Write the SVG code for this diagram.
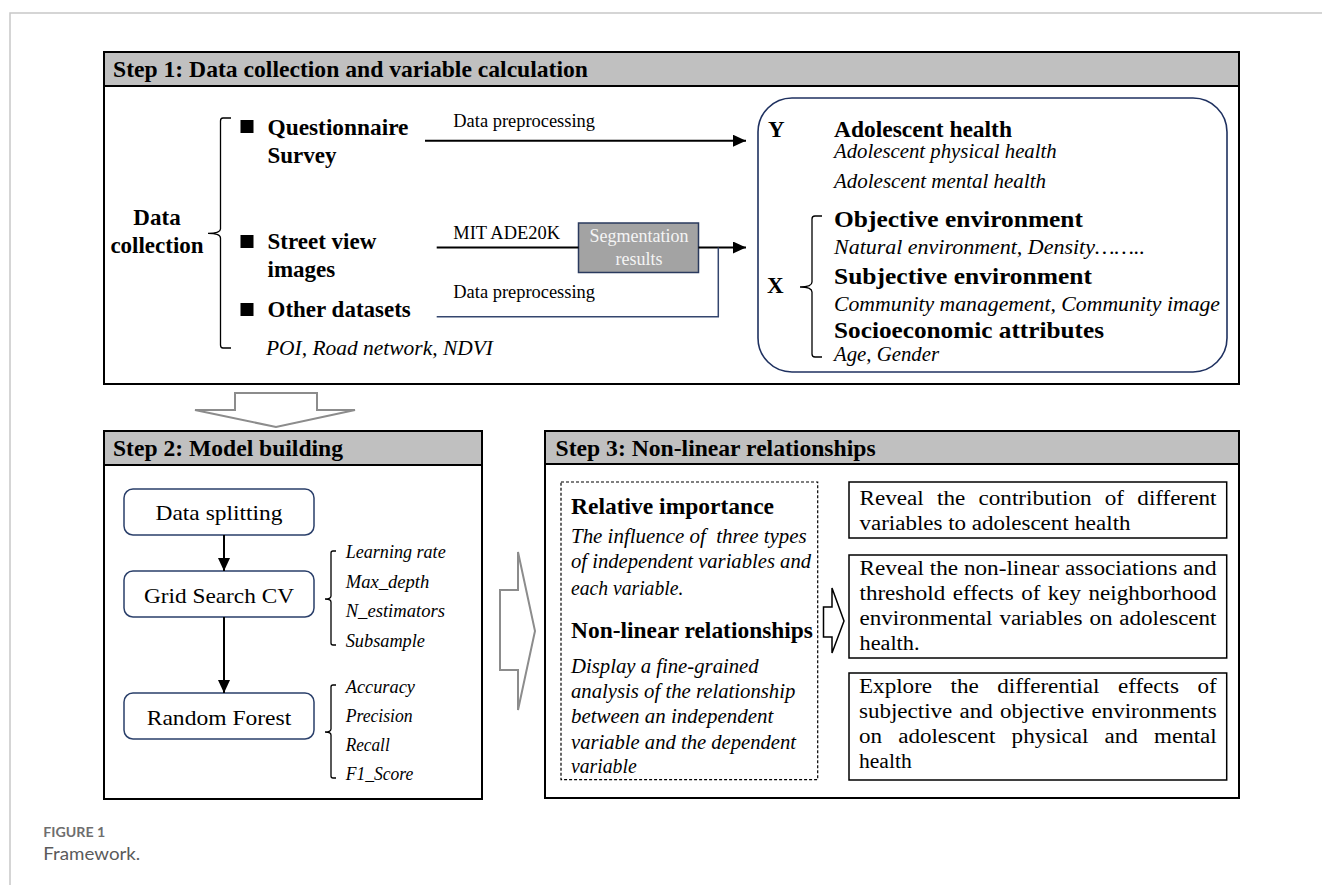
<svg xmlns="http://www.w3.org/2000/svg" width="1322" height="885" viewBox="0 0 1322 885" font-family="Liberation Serif, Times New Roman, serif">
<style>
text{font-family:"Liberation Serif","Times New Roman",serif;fill:#000}
.b{font-weight:bold;font-size:23px}
.h{font-weight:bold;font-size:23px}
.i{font-style:italic;font-size:20px}
.is{font-style:italic;font-size:18px}
.r{font-size:20px}
.s{font-size:18px}
.frame{fill:#fff;stroke:#000;stroke-width:2}
.hdr{fill:#c0c0c0;stroke:#000;stroke-width:2}
.nb{fill:#fff;stroke:#2a3f6a;stroke-width:1.5}
.ln{stroke:#000;stroke-width:2;fill:none}
.br{stroke:#000;stroke-width:1.3;fill:none}
.hollow{fill:#fff;stroke:#8c8c8c;stroke-width:2}
text.cap{font-family:Lato,"Liberation Sans",sans-serif}
</style>
<defs>
<marker id="ah" markerUnits="userSpaceOnUse" markerWidth="13" markerHeight="12" refX="13" refY="6" orient="auto">
<path d="M0,0 L13,6 L0,12 z" fill="#000"/>
</marker>
</defs>
<rect width="1322" height="885" fill="#fff"/>
<path d="M10,885 L10,13 L1322,13" fill="none" stroke="#c8c8c8" stroke-width="1.5"/>

<!-- Step 1 -->
<g id="step1">
<rect class="frame" x="104" y="52" width="1135" height="332"/>
<rect class="hdr" x="104" y="52" width="1135" height="34"/>
<text class="h" x="113" y="77" textLength="475" lengthAdjust="spacingAndGlyphs">Step 1: Data collection and variable calculation</text>
</g>
<g id="data-collection">
<text class="b" x="157" y="225" text-anchor="middle">Data</text>
<text class="b" x="157" y="253" text-anchor="middle">collection</text>
<path class="br" d="M231,118 L223,118 Q220.5,118 220.5,121 L220.5,229 Q220.5,233.3 208,233.3 Q220.5,233.3 220.5,238 L220.5,345 Q220.5,348 223,348 L231,348"/>
</g>
<g id="questionnaire">
<rect x="240.5" y="120" width="13" height="13" fill="#000"/>
<text class="b" x="267.5" y="135" textLength="141" lengthAdjust="spacingAndGlyphs">Questionnaire</text>
<text class="b" x="267.5" y="163">Survey</text>
</g>
<g id="street-view">
<rect x="240.5" y="235" width="13" height="13" fill="#000"/>
<text class="b" x="267.5" y="249">Street view</text>
<text class="b" x="267.5" y="277">images</text>
</g>
<g id="other-datasets">
<rect x="240.5" y="303" width="13" height="13" fill="#000"/>
<text class="b" x="267.5" y="317">Other datasets</text>
<text class="i" x="266" y="355" textLength="227" lengthAdjust="spacingAndGlyphs">POI, Road network, NDVI</text>
</g>
<g id="segmentation">
<rect x="578.5" y="223" width="120" height="49.5" fill="#a3a3a3" stroke="#2a3a5e" stroke-width="1.5"/>
<text class="s" x="639" y="242" text-anchor="middle" style="fill:#f4f4f4">Segmentation</text>
<text class="s" x="639" y="265" text-anchor="middle" style="fill:#f4f4f4">results</text>
</g>
<g id="yx-box">
<rect x="758" y="98" width="469" height="274" rx="34" fill="#fff" stroke="#1f3160" stroke-width="1.6"/>
<text class="b" x="768" y="137">Y</text>
<text class="b" x="834" y="137" textLength="178" lengthAdjust="spacingAndGlyphs">Adolescent health</text>
<text class="i" x="834" y="158" textLength="222.7" lengthAdjust="spacingAndGlyphs">Adolescent physical health</text>
<text class="i" x="834" y="188" textLength="212" lengthAdjust="spacingAndGlyphs">Adolescent mental health</text>
<text class="b" x="767" y="293">X</text>
<path class="br" d="M822,216 L815,216 Q812,216 812,219 L812,282 Q812,287 800,287 Q812,287 812,292 L812,354 Q812,357 815,357 L822,357"/>
<text class="b" x="834" y="227" textLength="249" lengthAdjust="spacingAndGlyphs">Objective environment</text>
<text class="i" x="834" y="254" textLength="311" lengthAdjust="spacingAndGlyphs">Natural environment, Density……..</text>
<text class="b" x="834" y="284" textLength="258" lengthAdjust="spacingAndGlyphs">Subjective environment</text>
<text class="i" x="834" y="311" textLength="386" lengthAdjust="spacingAndGlyphs">Community management, Community image</text>
<text class="b" x="834" y="338" textLength="270" lengthAdjust="spacingAndGlyphs">Socioeconomic attributes</text>
<text class="i" x="834" y="361" textLength="105" lengthAdjust="spacingAndGlyphs">Age, Gender</text>
</g>

<!-- Step 2 -->
<g id="step2">
<rect class="frame" x="104" y="431" width="378" height="368"/>
<rect class="hdr" x="104" y="431" width="378" height="34"/>
<text class="h" x="113" y="456" textLength="230" lengthAdjust="spacingAndGlyphs">Step 2: Model building</text>
</g>
<g id="data-splitting">
<rect class="nb" x="124" y="489" width="190" height="46" rx="9"/>
<text x="219" y="520" text-anchor="middle" font-size="22" textLength="127" lengthAdjust="spacingAndGlyphs">Data splitting</text>
</g>
<g id="grid-search">
<rect class="nb" x="124" y="571" width="190" height="46" rx="9"/>
<text x="219" y="603" text-anchor="middle" font-size="22" textLength="150" lengthAdjust="spacingAndGlyphs">Grid Search CV</text>
<path class="br" d="M336,551 L333,551 Q331,551 331,553 L331,596 Q331,599 325,599 Q331,599 331,602 L331,643 Q331,645 333,645 L336,645"/>
<text class="is" x="345.7" y="558" textLength="100" lengthAdjust="spacingAndGlyphs">Learning rate</text>
<text class="is" x="345.7" y="588" textLength="83.6" lengthAdjust="spacingAndGlyphs">Max_depth</text>
<text class="is" x="345.7" y="617" textLength="99.3" lengthAdjust="spacingAndGlyphs">N_estimators</text>
<text class="is" x="345.7" y="646.7" textLength="79.3" lengthAdjust="spacingAndGlyphs">Subsample</text>
</g>
<g id="random-forest">
<rect class="nb" x="124" y="693" width="190" height="46" rx="9"/>
<text x="219" y="725" text-anchor="middle" font-size="22" textLength="144.6" lengthAdjust="spacingAndGlyphs">Random Forest</text>
<path class="br" d="M336,685 L333,685 Q331,685 331,687 L331,729 Q331,732 325,732 Q331,732 331,735 L331,776 Q331,778 333,778 L336,778"/>
<text class="is" x="345.7" y="693" textLength="69.3" lengthAdjust="spacingAndGlyphs">Accuracy</text>
<text class="is" x="345.7" y="721.7" textLength="67" lengthAdjust="spacingAndGlyphs">Precision</text>
<text class="is" x="345.7" y="750.7" textLength="44" lengthAdjust="spacingAndGlyphs">Recall</text>
<text class="is" x="345.7" y="780" textLength="67.6" lengthAdjust="spacingAndGlyphs">F1_Score</text>
</g>

<!-- Step 3 -->
<g id="step3">
<rect class="frame" x="545" y="431" width="694" height="367"/>
<rect class="hdr" x="545" y="431" width="694" height="33"/>
<text class="h" x="555.6" y="456" textLength="320" lengthAdjust="spacingAndGlyphs">Step 3: Non-linear relationships</text>
</g>
<g id="analysis-box">
<rect x="561" y="482" width="256.7" height="297.7" fill="#fff" stroke="#000" stroke-width="1.2" stroke-dasharray="3,2"/>
<text class="b" x="571" y="514" textLength="203" lengthAdjust="spacingAndGlyphs">Relative importance</text>
<text class="i" x="571" y="543" xml:space="preserve" textLength="235.7" lengthAdjust="spacingAndGlyphs">The influence of  three types</text>
<text class="i" x="571" y="568" textLength="240" lengthAdjust="spacingAndGlyphs">of independent variables and</text>
<text class="i" x="571" y="594.7" textLength="112.3" lengthAdjust="spacingAndGlyphs">each variable.</text>
<text class="b" x="571" y="638" textLength="242" lengthAdjust="spacingAndGlyphs">Non-linear relationships</text>
<text class="i" x="571" y="673" textLength="187.7" lengthAdjust="spacingAndGlyphs">Display a fine-grained</text>
<text class="i" x="571" y="698" textLength="224.3" lengthAdjust="spacingAndGlyphs">analysis of the relationship</text>
<text class="i" x="571" y="723" textLength="202.3" lengthAdjust="spacingAndGlyphs">between an independent</text>
<text class="i" x="571" y="748.7" textLength="225" lengthAdjust="spacingAndGlyphs">variable and the dependent</text>
<text class="i" x="571" y="773" textLength="65.7" lengthAdjust="spacingAndGlyphs">variable</text>
</g>
<g id="result1">
<rect x="849" y="482" width="377.7" height="56" fill="#fff" stroke="#000" stroke-width="1.5"/>
<text class="r" x="859.5" y="504.7" word-spacing="6.5" textLength="357" lengthAdjust="spacingAndGlyphs">Reveal the contribution of different</text>
<text class="r" x="859.5" y="529.7" textLength="271" lengthAdjust="spacingAndGlyphs">variables to adolescent health</text>
</g>
<g id="result2">
<rect x="849" y="555" width="377.7" height="103" fill="#fff" stroke="#000" stroke-width="1.5"/>
<text class="r" x="859.5" y="574.7" textLength="357" lengthAdjust="spacingAndGlyphs">Reveal the non-linear associations and</text>
<text class="r" x="859.5" y="599.7" word-spacing="1.5" textLength="357" lengthAdjust="spacingAndGlyphs">threshold effects of key neighborhood</text>
<text class="r" x="859.5" y="624.7" word-spacing="1" textLength="357" lengthAdjust="spacingAndGlyphs">environmental variables on adolescent</text>
<text class="r" x="859.5" y="649.7" textLength="60" lengthAdjust="spacingAndGlyphs">health.</text>
</g>
<g id="result3">
<rect x="849" y="673" width="377.7" height="107" fill="#fff" stroke="#000" stroke-width="1.5"/>
<text class="r" x="859" y="693" word-spacing="11" textLength="357.7" lengthAdjust="spacingAndGlyphs">Explore the differential effects of</text>
<text class="r" x="859" y="718" word-spacing="1.3" textLength="357.7" lengthAdjust="spacingAndGlyphs">subjective and objective environments</text>
<text class="r" x="859" y="743" word-spacing="9" textLength="357.7" lengthAdjust="spacingAndGlyphs">on adolescent physical and mental</text>
<text class="r" x="859" y="768" textLength="52.7" lengthAdjust="spacingAndGlyphs">health</text>
</g>

<!-- Connectors -->
<g id="connectors">
<line class="ln" x1="425" y1="140.7" x2="746" y2="140.7" marker-end="url(#ah)"/>
<text class="s" x="453.3" y="127.3" textLength="141.7" lengthAdjust="spacingAndGlyphs">Data preprocessing</text>
<line class="ln" x1="436.7" y1="247.5" x2="578.5" y2="247.5"/>
<line class="ln" x1="698.5" y1="247.5" x2="746" y2="247.5" marker-end="url(#ah)"/>
<text class="s" x="453.3" y="239.3" textLength="106.7" lengthAdjust="spacingAndGlyphs">MIT ADE20K</text>
<polyline points="436.7,316.7 718.3,316.7 718.3,247.5" fill="none" stroke="#34466e" stroke-width="1.5"/>
<text class="s" x="453.3" y="298.3" textLength="141.7" lengthAdjust="spacingAndGlyphs">Data preprocessing</text>
<line class="ln" x1="224" y1="535" x2="224" y2="571" marker-end="url(#ah)"/>
<line class="ln" x1="224" y1="617" x2="224" y2="693" marker-end="url(#ah)"/>
<polygon class="hollow" points="235,393 317,393 317,410 355,410 276,427 195,410 235,410"/>
<polygon class="hollow" points="500,590 518,590 518,552 535,631 518,710 518,670 500,670"/>
<polygon points="823.5,607 832,607 832,588 844,621 832,653 832,637 823.5,637" fill="#fff" stroke="#000" stroke-width="1.5"/>
</g>

<g id="caption">
<text class="cap" x="43.3" y="836.7" font-size="13" font-weight="bold" style="fill:#6e6e6e" textLength="62" lengthAdjust="spacingAndGlyphs">FIGURE 1</text>
<text class="cap" x="43.3" y="860" font-size="18" style="fill:#5a5a5a" textLength="97" lengthAdjust="spacingAndGlyphs">Framework.</text>
</g>
</svg>
